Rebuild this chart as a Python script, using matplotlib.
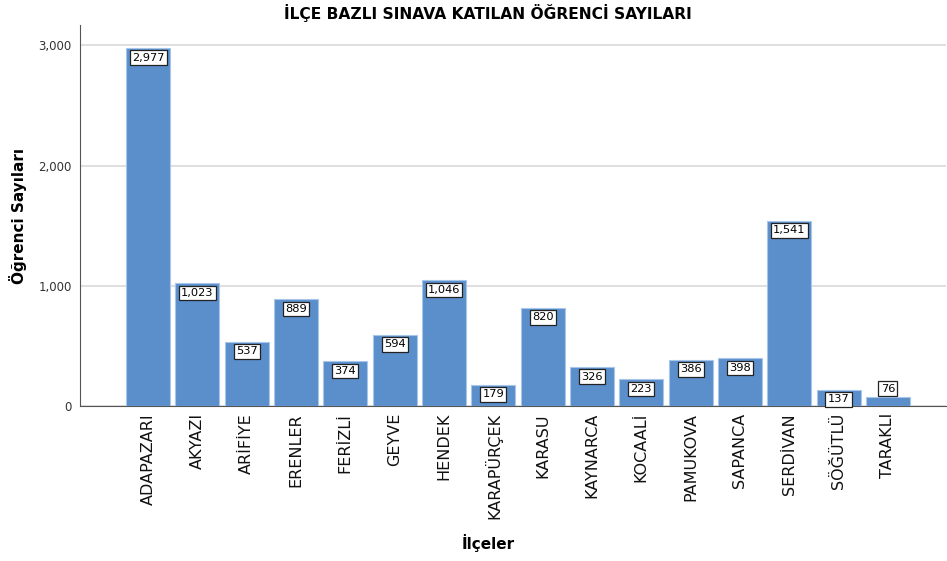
import matplotlib
matplotlib.use("Agg")
import matplotlib.pyplot as plt
from matplotlib.ticker import FuncFormatter

districts = ["ADAPAZARI", "AKYAZI", "ARİFİYE", "ERENLER", "FERİZLİ", "GEYVE", "HENDEK",
             "KARAPÜRÇEK", "KARASU", "KAYNARCA", "KOCAALİ", "PAMUKOVA", "SAPANCA",
             "SERDİVAN", "SÖĞÜTLÜ", "TARAKLI"]
counts = [2977, 1023, 537, 889, 374, 594, 1046, 179, 820, 326, 223, 386, 398, 1541, 137, 76]
yticks = [0, 1000, 2000, 3000]

plt.rcParams['font.family'] = ['DejaVu Sans']
fig = plt.figure(figsize=(9.47, 5.61), dpi=100)
ax = fig.add_axes([0.0845, 0.276, 0.914, 0.679])

x = list(range(len(districts)))
bars = ax.bar(x, counts, width=0.89, color='#5b8fcb', edgecolor='#a8c5ea', linewidth=0.8, zorder=3)

ax.set_xlim(-1.38, 16.17)
ax.set_ylim(0, 3166)
ax.set_yticks(yticks)
ax.yaxis.set_major_formatter(FuncFormatter(lambda v, p: f"{int(v):,}"))
ax.grid(axis='y', color='#d9d9d9', linewidth=1.2, zorder=0)
ax.set_axisbelow(True)
for s in ['top', 'right']:
    ax.spines[s].set_visible(False)
ax.spines['left'].set_color('#555555')
ax.spines['bottom'].set_color('#555555')
ax.tick_params(axis='y', length=0, labelsize=8.5, colors='#333333', pad=6)
ax.tick_params(axis='x', length=0, pad=5)
ax.set_xticks(x)
ax.set_xticklabels(districts, rotation=90, fontsize=11.5, color='#111111')

for xi, v in zip(x, counts):
    if v >= 100:
        ax.annotate(f"{v:,}", (xi, v), xytext=(0, -7), textcoords='offset points',
                    ha='center', va='center', fontsize=8.2, zorder=5,
                    bbox=dict(boxstyle='square,pad=0.2', fc='white', ec='#222222', lw=0.9))
    else:
        ax.annotate(f"{v:,}", (xi, v), xytext=(0, 6), textcoords='offset points',
                    ha='center', va='center', fontsize=8.2, zorder=5,
                    bbox=dict(boxstyle='square,pad=0.2', fc='white', ec='#222222', lw=0.9))

fig.suptitle("İLÇE BAZLI SINAVA KATILAN ÖĞRENCİ SAYILARI", x=0.515, y=0.993,
             fontsize=11.2, fontweight='bold', va='top')
ax.set_ylabel("Öğrenci Sayıları", fontsize=11, fontweight='bold', labelpad=8)
fig.text(0.515, 0.032, "İlçeler", fontsize=11, fontweight='bold', ha='center', va='center')

fig.savefig("out.png", dpi=100)
